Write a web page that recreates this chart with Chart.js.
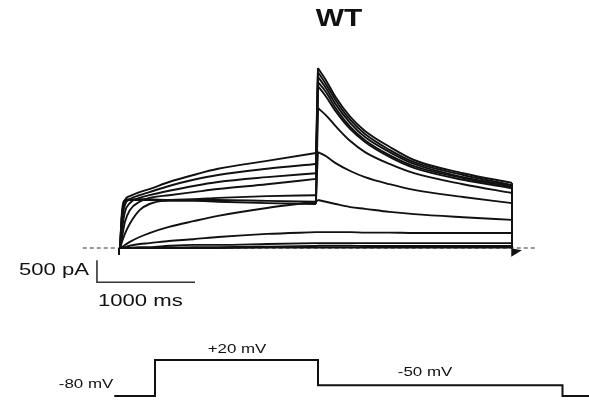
<!DOCTYPE html>
<html>
<head>
<meta charset="utf-8">
<script src="https://cdn.jsdelivr.net/npm/chart.js@4/dist/chart.umd.min.js"></script>
<style>
  html, body { margin: 0; padding: 0; background: #fff; }
  #wrap { position: relative; width: 589px; height: 402px; }
</style>
</head>
<body>
<div id="wrap"><canvas id="traces" width="589" height="402"></canvas></div>
<script>
// sample times (ms): step to test potential, then tail at -50 mV
const stepTimes = [0, 20, 50, 100, 200, 300, 500, 750, 1000, 1500, 2000];
const tailTimes = [2020, 2100, 2200, 2350, 2500, 2750, 3000, 3500, 4000];

// current (pA) during the step, one row per sweep (smallest first)
const stepCurrents = [
  [0, 0, 0, 0, 0, 0, 0, 0, 0, 10, 10],
  [0, 0, 0, 0, 0, 0, 10, 20, 20, 30, 45],
  [0, 0, 0, 0, 20, 20, 50, 70, 70, 90, 110],
  [0, 0, 20, 50, 90, 110, 160, 200, 250, 320, 360],
  [0, 20, 70, 140, 250, 340, 480, 610, 730, 910, 1050],
  [0, 140, 320, 550, 860, 1000, 1090, 1110, 1140, 1180, 1200],
  [0, 730, 1050, 1090, 1090, 1090, 1070, 1070, 1050, 1020, 1000],
  [0, 820, 1090, 1110, 1110, 1110, 1090, 1090, 1090, 1070, 1050],
  [0, 230, 590, 860, 1050, 1140, 1200, 1270, 1340, 1450, 1570],
  [0, 410, 820, 1020, 1140, 1200, 1300, 1410, 1500, 1610, 1700],
  [0, 590, 980, 1110, 1200, 1270, 1410, 1550, 1660, 1800, 1910],
  [0, 750, 1090, 1180, 1270, 1340, 1500, 1660, 1800, 1980, 2160]
];

// tail current (pA) at -50 mV, same sweep order
const tailCurrents = [
  [10, 10, 10, 10, 10, 10, 10, 10, 10],
  [50, 50, 50, 50, 45, 45, 45, 45, 45],
  [110, 110, 110, 110, 110, 110, 110, 110, 110],
  [360, 360, 360, 360, 350, 350, 340, 340, 340],
  [1090, 1050, 1000, 930, 890, 820, 770, 700, 640],
  [2180, 2090, 1930, 1750, 1610, 1450, 1320, 1160, 1020],
  [3180, 3020, 2770, 2430, 2180, 1910, 1700, 1450, 1250],
  [3680, 3450, 3110, 2700, 2410, 2070, 1820, 1550, 1360],
  [3770, 3550, 3180, 2750, 2450, 2110, 1860, 1590, 1390],
  [3890, 3640, 3270, 2840, 2520, 2180, 1910, 1610, 1410],
  [4000, 3730, 3360, 2910, 2590, 2230, 1950, 1660, 1430],
  [4090, 3820, 3430, 2980, 2660, 2300, 2000, 1700, 1480]
];

// small capacitive blips at pulse on/off
const onBlipTimes = [-10, -10];
const onBlipCurrents = [0, -160];
const offBlipTimes = [4000, 4000, 4080, 4000];
const offBlipCurrents = [0, -170, -60, -30];

// zero-current reference line and scale bars
const baselineTimes = [-380, 4240];
const scaleBarTimes = [-235, -235, 765];
const scaleBarCurrents = [-280, -780, -780];

// voltage protocol (schematic): -80 hold, +20 for 2 s, -50 for 3 s
const protocolTimes = [-500, 0, 0, 2000, 2000, 5000, 5000, 5400];
const protocolVoltages = [-80, -80, 20, 20, -50, -50, -80, -80];

const ink = '#111';
const lw = 1.9;
const datasets = [];
stepCurrents.forEach((row, i) => {
  const tail = tailCurrents[i];
  // smooth step segment
  datasets.push({
    data: stepTimes.map((t, j) => ({ x: t, y: row[j] })),
    borderColor: ink, borderWidth: lw, cubicInterpolationMode: 'monotone'
  });
  // smooth tail segment
  datasets.push({
    data: tailTimes.map((t, j) => ({ x: t, y: tail[j] })),
    borderColor: ink, borderWidth: lw, cubicInterpolationMode: 'monotone'
  });
  // straight jumps: onto the tail and back to zero at the end
  datasets.push({
    data: [{ x: stepTimes[stepTimes.length - 1], y: row[row.length - 1] }, { x: tailTimes[0], y: tail[0] }],
    borderColor: ink, borderWidth: lw, tension: 0
  });
  datasets.push({
    data: [{ x: tailTimes[tailTimes.length - 1], y: tail[tail.length - 1] }, { x: tailTimes[tailTimes.length - 1], y: 0 }],
    borderColor: ink, borderWidth: lw, tension: 0
  });
});
datasets.push({
  data: onBlipTimes.map((t, i) => ({ x: t, y: onBlipCurrents[i] })),
  borderColor: ink, borderWidth: 2, tension: 0
});
datasets.push({
  data: offBlipTimes.map((t, i) => ({ x: t, y: offBlipCurrents[i] })),
  borderColor: ink, backgroundColor: ink, borderWidth: 1.5, tension: 0, fill: 'shape'
});
datasets.push({
  data: baselineTimes.map(t => ({ x: t, y: 0 })),
  borderColor: '#333', borderWidth: 1, borderDash: [4, 3], tension: 0
});
datasets.push({
  data: scaleBarTimes.map((t, i) => ({ x: t, y: scaleBarCurrents[i] })),
  borderColor: '#333', borderWidth: 1.6, tension: 0
});
datasets.push({
  data: protocolTimes.map((t, i) => ({ x: t, y: protocolVoltages[i] })),
  borderColor: ink, borderWidth: 2, tension: 0,
  xAxisID: 'x2', yAxisID: 'y2'
});

// text labels, stretched a little to match the figure
const labels = {
  id: 'labels',
  afterDraw(chart) {
    const c = chart.ctx;
    const put = (txt, x, y, font, align) => {
      c.save();
      c.font = font;
      c.fillStyle = ink;
      c.textBaseline = 'alphabetic';
      c.textAlign = align;
      c.translate(x, y);
      c.scale(1.3, 1);
      c.fillText(txt, 0, 0);
      c.restore();
    };
    put('WT', 339, 26, 'bold 23px Arial, "Liberation Sans"', 'center');
    put('500 pA', 89, 275, '17px Arial, "Liberation Sans"', 'right');
    put('1000 ms', 98, 306, '17px Arial, "Liberation Sans"', 'left');
    put('+20 mV', 237, 353, '13px Arial, "Liberation Sans"', 'center');
    put('-50 mV', 425, 376, '13px Arial, "Liberation Sans"', 'center');
    put('-80 mV', 86, 388, '13px Arial, "Liberation Sans"', 'center');
  }
};

new Chart(document.getElementById('traces'), {
  type: 'scatter',
  data: { datasets: datasets },
  options: {
    responsive: false,
    animation: false,
    devicePixelRatio: 1,
    showLine: true,
    layout: { padding: 0 },
    elements: { point: { radius: 0 } },
    plugins: { legend: { display: false }, tooltip: { enabled: false } },
    scales: {
      x: { type: 'linear', display: false, min: -1224.5, max: 4785.7 },
      y: { type: 'linear', display: false, min: -3500, max: 5636.4 },
      x2: { type: 'linear', display: false, min: -1901.8, max: 5325.2 },
      y2: { type: 'linear', display: false, min: -96.67, max: 1020 }
    }
  },
  plugins: [labels]
});
</script>
</body>
</html>
